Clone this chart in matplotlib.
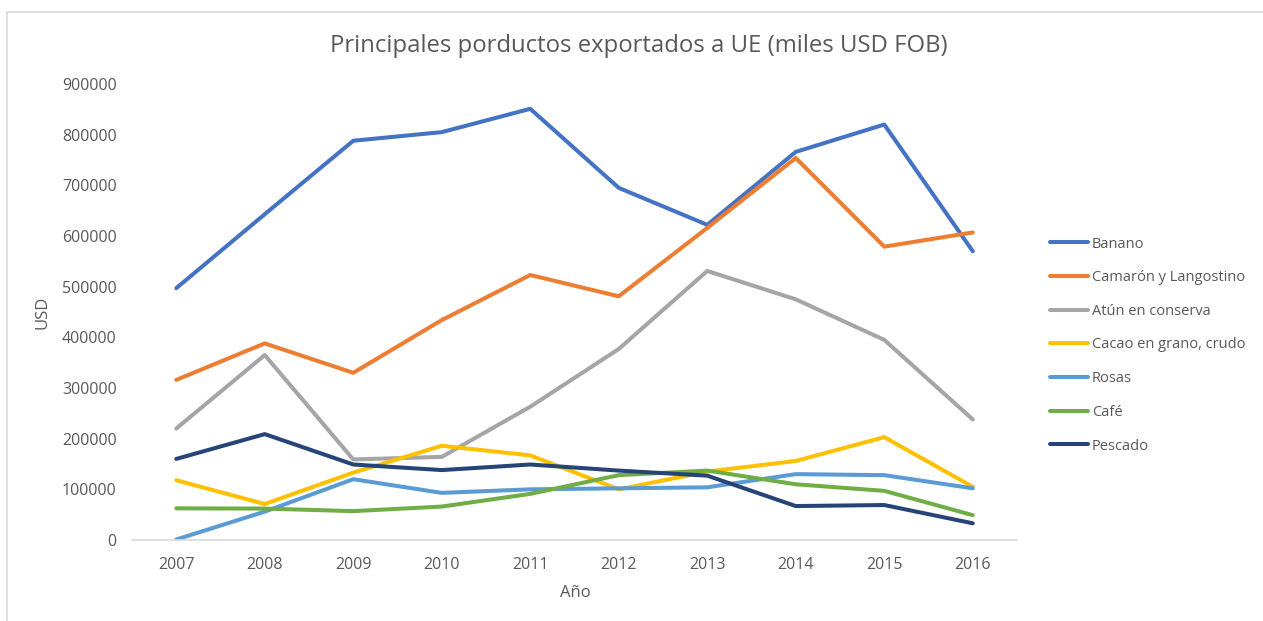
import matplotlib.pyplot as plt
from matplotlib.patches import Rectangle
import numpy as np

# datos
years = ["2007", "2008", "2009", "2010", "2011", "2012", "2013", "2014", "2015", "2016"]
banano = [497000, 643000, 788000, 805000, 851000, 695000, 622000, 766000, 820000, 570000]
camaron = [316000, 388000, 330000, 434000, 523000, 481000, 616000, 754000, 579000, 607000]
atun = [220000, 365000, 159000, 164000, 263000, 377000, 531000, 475000, 395000, 238000]
cacao = [118000, 71000, 133000, 186000, 167000, 100000, 135000, 156000, 203000, 105000]
rosas = [1000, 56000, 120000, 93000, 100000, 102000, 104000, 130000, 128000, 102000]
cafe = [62500, 62000, 57000, 66000, 91000, 128000, 137000, 110000, 97000, 49000]
pescado = [160000, 209000, 149000, 138000, 149000, 137000, 127000, 67000, 69000, 33000]

series = [
    ("Banano", banano, "#4472C4"),
    ("Camarón y Langostino", camaron, "#ED7D31"),
    ("Atún en conserva", atun, "#A5A5A5"),
    ("Cacao en grano, crudo", cacao, "#FFC000"),
    ("Rosas", rosas, "#5B9BD5"),
    ("Café", cafe, "#70AD47"),
    ("Pescado", pescado, "#264478"),
]

plt.rcParams["font.family"] = ["Open Sans", "DejaVu Sans"]
txt_color = "#595959"

W, H = 1263, 621
fig = plt.figure(figsize=(W / 100, H / 100), dpi=100)
ax = fig.add_axes([132 / W, (H - 540) / H, (1017 - 132) / W, (540 - 84) / H])

x = np.arange(len(years))
for name, vals, col in series:
    ax.plot(x, vals, color=col, lw=2.9, label=name, solid_capstyle="round", solid_joinstyle="round")

ax.set_xlim(-0.5, len(years) - 0.5)
ax.set_ylim(0, 900000)
ax.set_yticks(np.arange(0, 900001, 100000))
ax.set_xticks(x)
ax.set_xticklabels(years)
ax.tick_params(axis="both", length=0, labelsize=11.5, colors=txt_color)
ax.tick_params(axis="y", pad=11)
ax.tick_params(axis="x", pad=12)
for s in ["top", "right", "left"]:
    ax.spines[s].set_visible(False)
ax.spines["bottom"].set_color("#D9D9D9")
ax.spines["bottom"].set_linewidth(1.2)

fig.text(639 / W, 1 - 46 / H, "Principales porductos exportados a UE (miles USD FOB)",
         ha="center", va="center", fontsize=17.2, color=txt_color)
fig.text(575 / W, 1 - 593 / H, "Año", ha="center", va="center", fontsize=12, color=txt_color)
fig.text(42 / W, 1 - 312 / H, "USD", ha="center", va="center", rotation=90, fontsize=12, color=txt_color)

leg = fig.legend(loc="center left", bbox_to_anchor=(1037 / W, 1 - 345 / H), frameon=False,
                 fontsize=10.5, labelcolor=txt_color, handlelength=2.6, handletextpad=0.25,
                 labelspacing=1.28)

# borde del area del grafico
fig.patches.append(Rectangle((7 / W, -0.1), 1.2, 1 - 12 / H + 0.1, transform=fig.transFigure,
                             fill=False, edgecolor="#D9D9D9", lw=1.2))

plt.savefig("out.png", dpi=100)
